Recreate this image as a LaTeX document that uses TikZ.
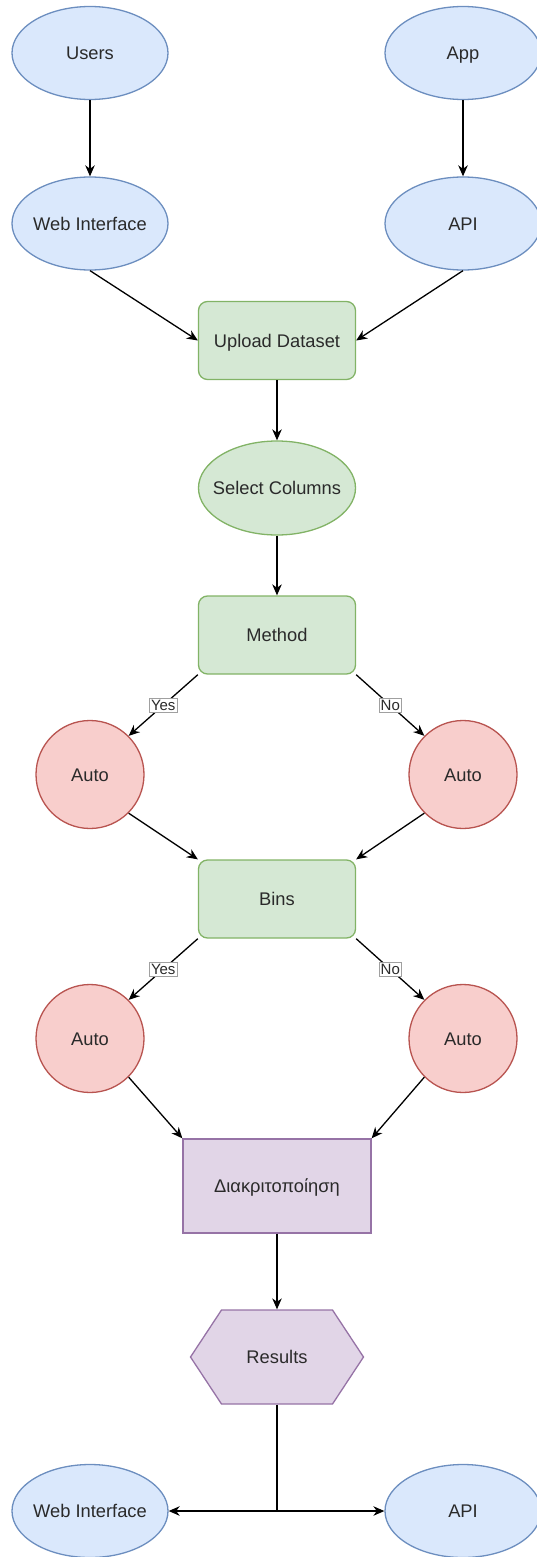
\documentclass[tikz,border=0pt]{standalone}
\usepackage{fontspec}
\setmainfont{Liberation Sans}
\usetikzlibrary{shapes.geometric,arrows.meta,calc}
\definecolor{bfill}{HTML}{DAE8FC}\definecolor{bdraw}{HTML}{6C8EBF}
\definecolor{gfill}{HTML}{D5E8D4}\definecolor{gdraw}{HTML}{82B366}
\definecolor{rfill}{HTML}{F8CECC}\definecolor{rdraw}{HTML}{B85450}
\definecolor{pfill}{HTML}{E1D5E7}\definecolor{pdraw}{HTML}{9673A6}
\definecolor{txt}{HTML}{2A2A2A}
\definecolor{lbldraw}{HTML}{A0A0A0}
\begin{document}
\begin{tikzpicture}[x=1pt,y=-1pt,
 base/.style={line width=1.3pt, text=txt, font=\fontsize{18.3}{21}\selectfont, inner sep=0pt, text height=13pt, text depth=0pt},
 blueell/.style={base, ellipse, draw=bdraw, fill=bfill, minimum width=156pt, minimum height=93pt, inner xsep=-12pt},
 greenbox/.style={base, rectangle, rounded corners=9pt, draw=gdraw, fill=gfill, minimum width=157pt, minimum height=78pt},
 greenell/.style={base, ellipse, draw=gdraw, fill=gfill, minimum width=157pt, minimum height=94pt, inner xsep=-12pt},
 redcirc/.style={base, circle, draw=rdraw, fill=rfill, minimum size=108pt},
 purplebox/.style={base, rectangle, draw=pdraw, fill=pfill, minimum width=188pt, minimum height=94pt},
 hexbox/.style={base, rectangle, minimum width=173pt, minimum height=94pt},
 hexshape/.style={line width=1.3pt, draw=pdraw, fill=pfill},
 conn/.style={line width=1.3pt, draw=black, -{Stealth[length=11pt,width=9.5pt,inset=3.5pt]}},
 plain/.style={line width=1.3pt, draw=black},
 lbl/.style={fill=white, draw=lbldraw, line width=0.6pt, text=txt, font=\fontsize{15}{16}\selectfont, inner sep=1.5pt}
]
\useasboundingbox (0,0) rectangle (537,1557);
\clip (0,0) rectangle (537,1557);

% nodes
\node[blueell] (users) at (90,53) {Users};
\node[blueell] (app) at (463,53) {App};
\node[blueell] (wi1) at (90,223.5) {Web Interface};
\node[blueell] (api1) at (463,223.5) {API};
\node[greenbox] (upload) at (277,340.5) {Upload Dataset};
\node[greenell] (select) at (277,488) {Select Columns};
\node[greenbox] (method) at (277,635) {Method};
\node[redcirc] (autoA) at (90,774.5) {Auto};
\node[redcirc] (autoB) at (463,774.5) {Auto};
\node[greenbox] (bins) at (277,899) {Bins};
\node[redcirc] (autoC) at (90,1038.5) {Auto};
\node[redcirc] (autoD) at (463,1038.5) {Auto};
\node[purplebox] (disc) at (277,1186) {Διακριτοποίηση};
\coordinate (rc) at (277,1357);
\draw[hexshape] ($(rc)+(-86.5,0)$) -- ($(rc)+(-55.5,-47)$) -- ($(rc)+(55.5,-47)$)
  -- ($(rc)+(86.5,0)$) -- ($(rc)+(55.5,47)$) -- ($(rc)+(-55.5,47)$) -- cycle;
\node[hexbox] (res) at (rc) {Results};
\node[blueell] (wi2) at (90,1511) {Web Interface};
\node[blueell] (api2) at (463,1511) {API};

% connectors
\draw[conn] (users) -- (wi1);
\draw[conn] (app) -- (api1);
\draw[conn] (wi1.south) -- (upload.west);
\draw[conn] (api1.south) -- (upload.east);
\draw[conn] (upload) -- (select);
\draw[conn] (select) -- (method);
\draw[conn] (method.south west) -- node[lbl] (yes1) {Yes} (autoA.north east);
\draw[conn] (method.south east) -- node[lbl] (no1) {No} (autoB.north west);
\draw[conn] (autoA.south east) -- (bins.north west);
\draw[conn] (autoB.south west) -- (bins.north east);
\draw[conn] (bins.south west) -- node[lbl] (yes2) {Yes} (autoC.north east);
\draw[conn] (bins.south east) -- node[lbl] (no2) {No} (autoD.north west);
\draw[conn] (autoC.south east) -- (disc.north west);
\draw[conn] (autoD.south west) -- (disc.north east);
\draw[conn] (disc) -- (res);
\coordinate (split) at (res.south |- wi2.center);
\draw[plain] (res.south) -- (split);
\draw[conn] (split) -- (wi2);
\draw[conn] (split) -- (api2);
\end{tikzpicture}
\end{document}
